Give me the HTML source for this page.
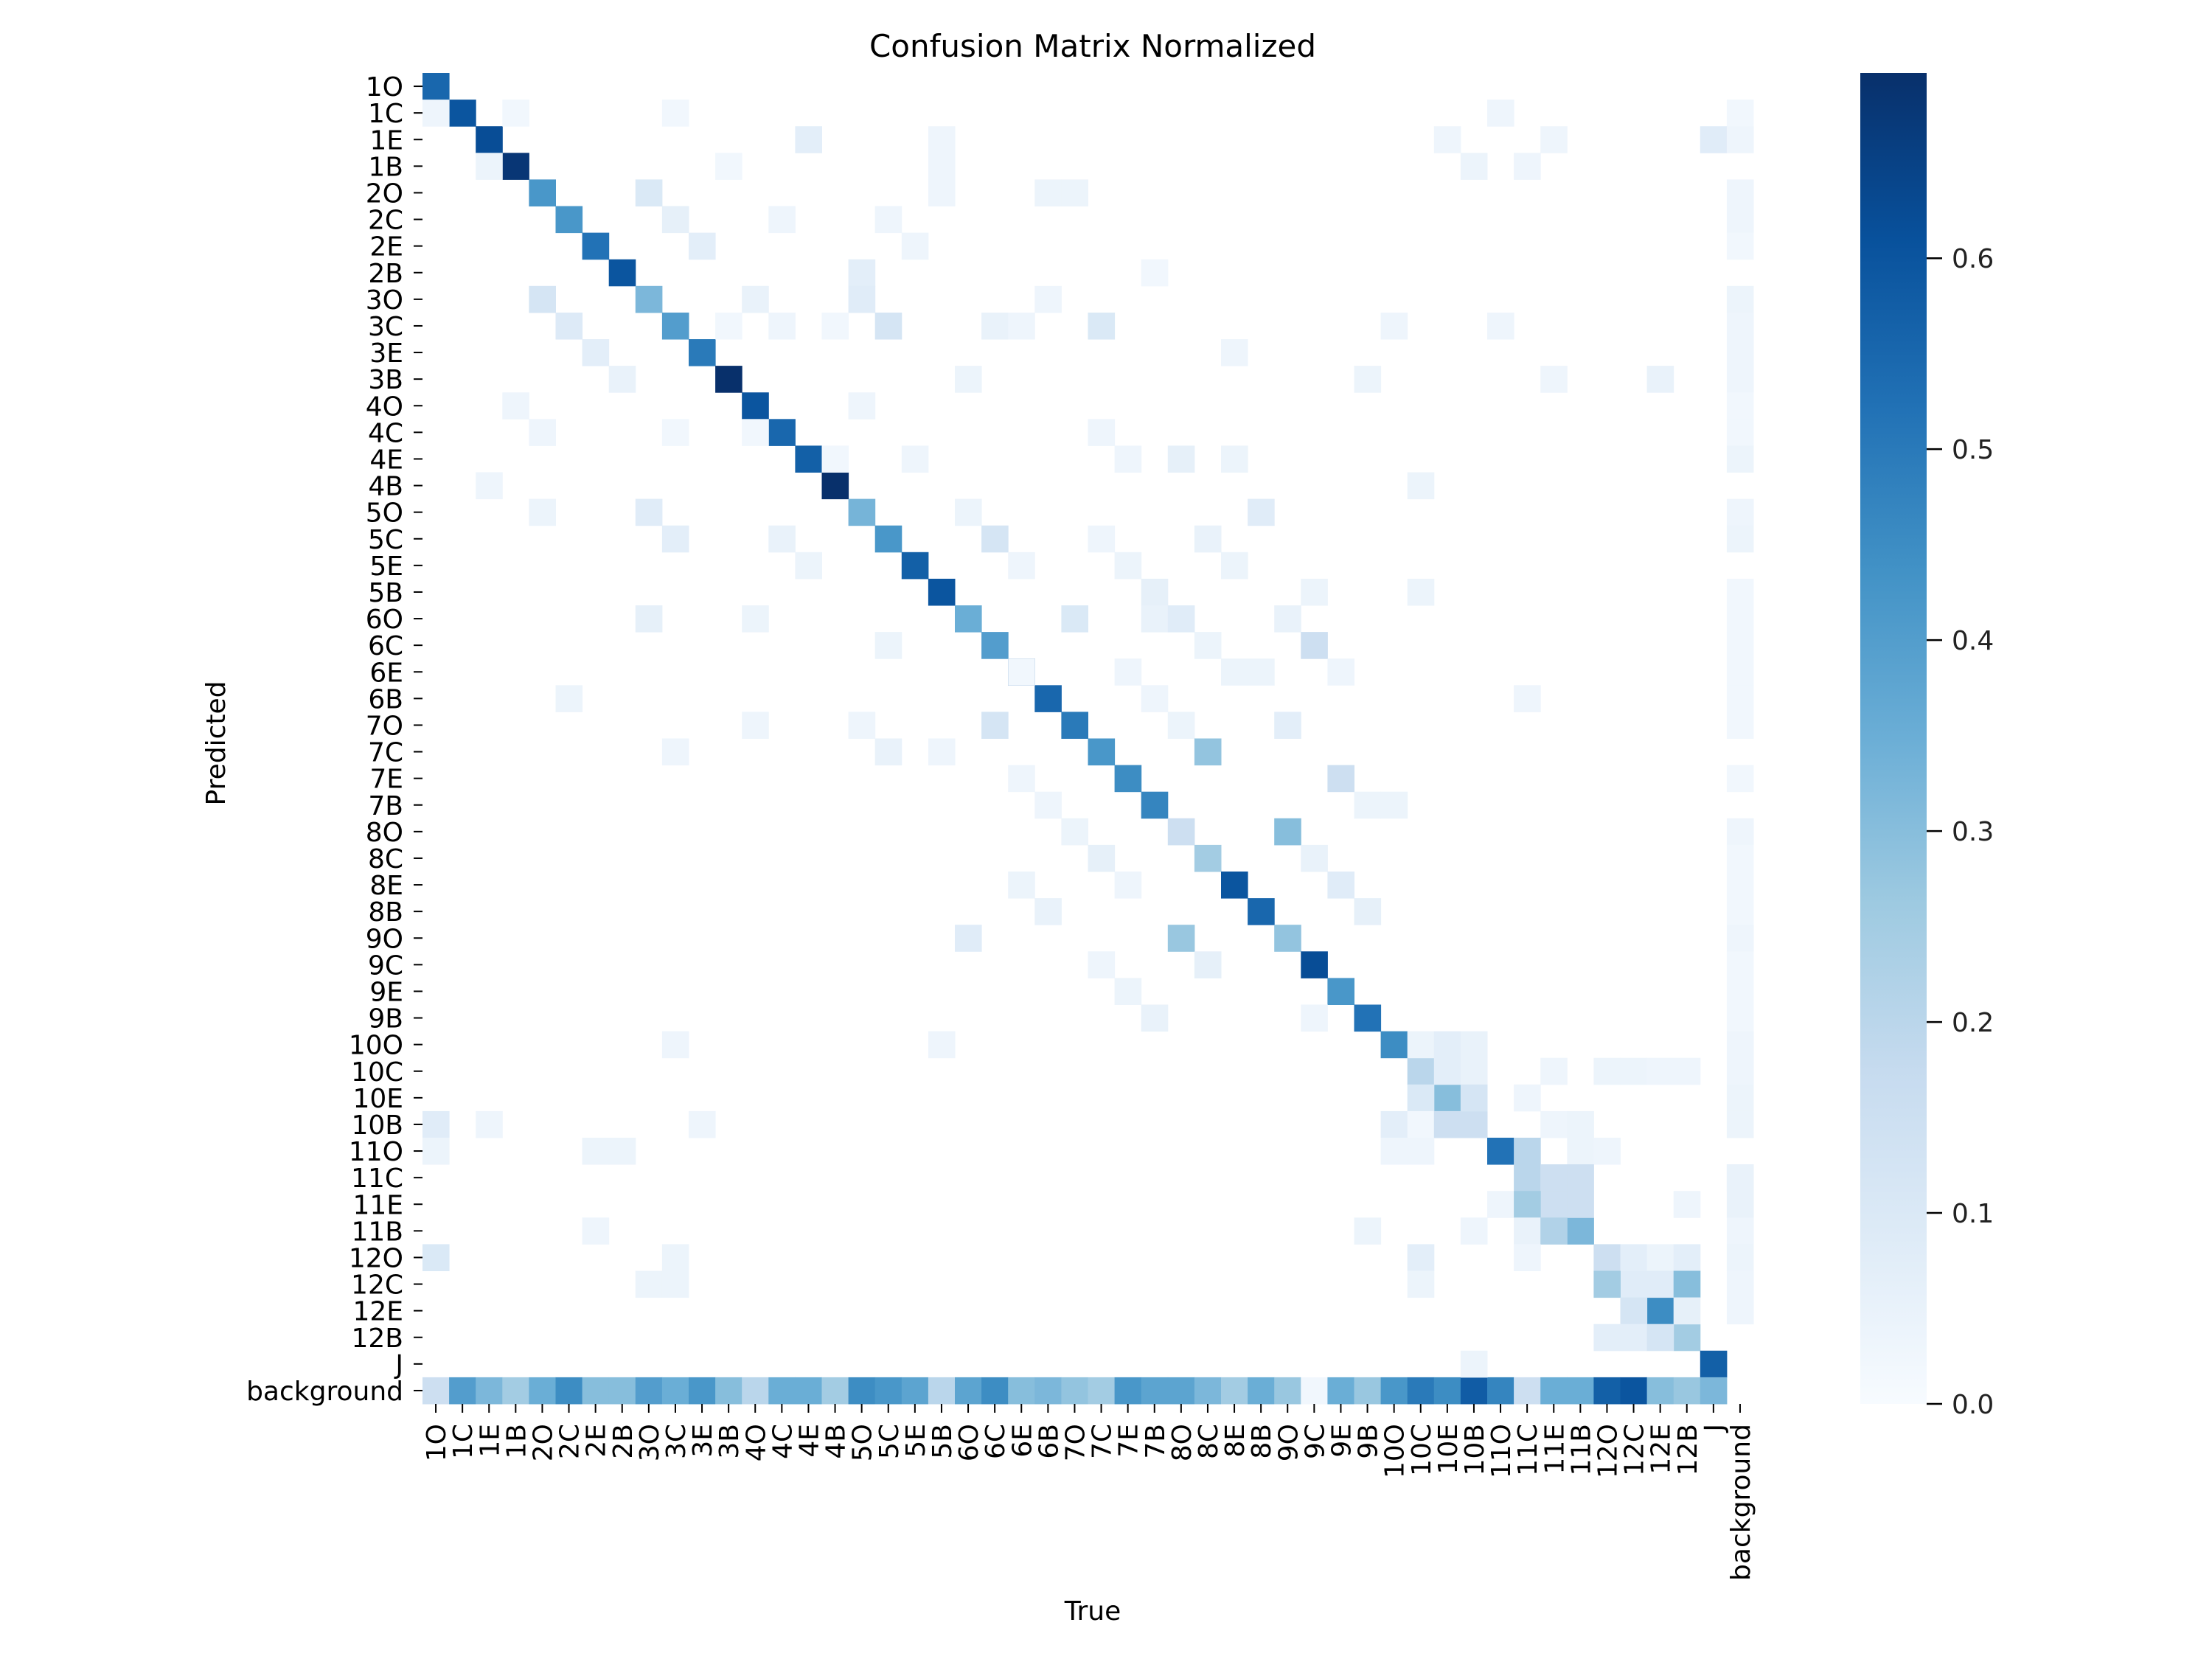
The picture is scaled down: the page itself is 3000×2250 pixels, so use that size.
<!DOCTYPE html>
<html><head><meta charset="utf-8"><style>
html,body{margin:0;padding:0;background:#fff;}
svg{display:block;font-family:"DejaVu Sans","Liberation Sans",sans-serif;}
</style></head><body>
<svg id="chart" width="3000" height="2250" viewBox="0 0 3000 2250" xmlns="http://www.w3.org/2000/svg">
<rect width="3000" height="2250" fill="#fff"/>
<text x="1482" y="77" font-size="42" text-anchor="middle">Confusion Matrix Normalized</text>
<text x="1482" y="2197" font-size="36" text-anchor="middle">True</text>
<text x="305" y="1008" font-size="36" text-anchor="middle" transform="rotate(-90 305 1008)">Predicted</text>
<g id="cells"></g><g id="yticks"></g><g id="xticks"></g>
<defs><linearGradient id="cbg" x1="0" y1="1" x2="0" y2="0">
<stop offset="0" stop-color="#f7fbff"/><stop offset="0.125" stop-color="#deebf7"/><stop offset="0.25" stop-color="#c6dbef"/><stop offset="0.375" stop-color="#9ecae1"/><stop offset="0.5" stop-color="#6baed6"/><stop offset="0.625" stop-color="#4292c6"/><stop offset="0.75" stop-color="#2171b5"/><stop offset="0.875" stop-color="#08519c"/><stop offset="1" stop-color="#08306b"/></linearGradient></defs>
<rect x="2523" y="99" width="90" height="1805" fill="url(#cbg)"/>
<g id="cbticks"></g>
</svg>
<script>
const categories=["1O","1C","1E","1B","2O","2C","2E","2B","3O","3C","3E","3B","4O","4C","4E","4B","5O","5C","5E","5B","6O","6C","6E","6B","7O","7C","7E","7B","8O","8C","8E","8B","9O","9C","9E","9B","10O","10C","10E","10B","11O","11C","11E","11B","12O","12C","12E","12B","J","background"];
const diagonal=[0.55,0.6,0.62,0.68,0.42,0.42,0.52,0.6,0.32,0.4,0.5,0.7,0.6,0.55,0.57,0.7,0.33,0.42,0.57,0.6,0.35,0.4,0.6,0.55,0.5,0.42,0.45,0.47,0.15,0.25,0.6,0.55,0.28,0.62,0.42,0.52,0.45,0.2,0.3,0.15,0.52,0.2,0.15,0.32,0.15,0.08,0.45,0.25,0.57,0];
const backgroundRow=[0.15,0.4,0.32,0.25,0.35,0.45,0.3,0.3,0.4,0.35,0.42,0.3,0.2,0.35,0.35,0.25,0.45,0.42,0.38,0.2,0.38,0.45,0.3,0.32,0.28,0.25,0.42,0.38,0.38,0.32,0.25,0.35,0.27,0.02,0.35,0.27,0.42,0.5,0.45,0.58,0.47,0.15,0.35,0.35,0.57,0.6,0.3,0.27,0.32];
const offRows=[1,1,1,1,1,2,2,2,2,2,2,3,3,3,3,3,4,4,4,4,4,5,5,5,5,6,6,6,7,7,8,8,8,8,8,9,9,9,9,9,9,9,9,9,9,9,10,10,10,11,11,11,11,11,11,12,12,12,13,13,13,13,13,14,14,14,14,14,14,15,15,16,16,16,16,16,17,17,17,17,17,17,18,18,18,18,19,19,19,19,20,20,20,20,20,20,20,21,21,21,21,22,22,22,22,22,22,23,23,23,23,24,24,24,24,24,24,25,25,25,25,26,26,26,27,27,27,28,28,28,29,29,29,30,30,30,30,31,31,31,32,32,32,33,33,33,34,34,35,35,35,36,36,36,36,36,36,37,37,37,37,37,37,37,37,38,38,38,38,39,39,39,39,39,39,39,39,39,40,40,40,40,40,40,40,40,41,41,41,41,42,42,42,42,42,43,43,43,43,43,43,44,44,44,44,44,44,44,44,45,45,45,45,45,45,45,46,46,46,47,47,47,48];
const offCols=[0,3,9,40,49,14,19,38,42,48,49,2,11,19,39,41,8,19,23,24,49,9,13,17,49,10,18,49,16,27,4,12,16,23,49,5,11,13,15,17,21,22,25,36,40,49,6,30,49,7,20,35,42,46,49,3,16,49,4,9,12,25,49,15,18,26,28,30,49,2,37,4,8,20,31,49,9,13,21,25,29,49,14,22,26,30,27,33,37,49,8,12,24,27,28,32,49,17,29,33,49,26,30,31,34,49,22,5,27,41,49,12,16,21,28,32,49,9,17,19,29,22,34,49,23,35,36,24,32,49,25,33,49,22,26,34,49,23,35,49,20,28,49,25,29,49,26,49,27,33,49,9,19,37,38,39,49,38,39,42,44,45,46,47,49,37,39,41,49,0,2,10,36,37,38,42,43,49,0,6,7,36,37,41,43,44,42,43,49,49,40,41,43,47,49,6,35,39,41,42,49,0,9,37,41,45,46,47,49,8,9,37,44,46,47,49,45,47,49,44,45,46,39];
const offVals=[0.03,0.02,0.02,0.03,0.02,0.07,0.03,0.03,0.03,0.08,0.03,0.04,0.02,0.03,0.04,0.03,0.1,0.03,0.04,0.04,0.03,0.06,0.03,0.03,0.03,0.07,0.03,0.02,0.07,0.02,0.12,0.05,0.08,0.03,0.04,0.09,0.02,0.03,0.02,0.12,0.05,0.03,0.1,0.03,0.03,0.03,0.07,0.03,0.03,0.05,0.04,0.04,0.03,0.05,0.03,0.03,0.03,0.02,0.03,0.02,0.02,0.03,0.02,0.02,0.03,0.03,0.06,0.04,0.04,0.03,0.04,0.04,0.08,0.04,0.08,0.03,0.07,0.05,0.12,0.03,0.05,0.04,0.04,0.03,0.04,0.04,0.06,0.04,0.04,0.02,0.06,0.04,0.1,0.05,0.08,0.05,0.02,0.04,0.04,0.15,0.02,0.03,0.04,0.04,0.03,0.02,0.02,0.04,0.03,0.03,0.02,0.03,0.03,0.12,0.04,0.07,0.02,0.03,0.05,0.03,0.28,0.03,0.15,0.02,0.03,0.04,0.04,0.04,0.3,0.03,0.06,0.05,0.02,0.04,0.03,0.08,0.02,0.05,0.06,0.02,0.08,0.27,0.03,0.03,0.06,0.02,0.04,0.02,0.05,0.03,0.02,0.03,0.03,0.04,0.07,0.05,0.03,0.07,0.05,0.03,0.04,0.04,0.03,0.03,0.03,0.1,0.12,0.03,0.04,0.08,0.03,0.03,0.07,0.02,0.15,0.03,0.04,0.04,0.04,0.04,0.04,0.03,0.03,0.2,0.04,0.03,0.15,0.15,0.04,0.05,0.03,0.25,0.15,0.03,0.05,0.03,0.04,0.03,0.05,0.22,0.03,0.1,0.04,0.07,0.03,0.07,0.04,0.07,0.04,0.04,0.04,0.04,0.25,0.08,0.3,0.03,0.12,0.06,0.03,0.07,0.07,0.12,0.04];
const cbTicks=[0,0.1,0.2,0.3,0.4,0.5,0.6];
const VMAX=0.697;
const NS="http://www.w3.org/2000/svg";
const X0=573,Y0=99,W=1805,H=1805,N=categories.length,CW=W/N,CH=H/N;
const stops=[[247,251,255],[222,235,247],[198,219,239],[158,202,225],[107,174,214],[66,146,198],[33,113,181],[8,81,156],[8,48,107]];
function color(v){let t=Math.max(0,Math.min(1,v/VMAX))*8;let i=Math.min(7,Math.floor(t)),f=t-i;const a=stops[i],b=stops[i+1];return `rgb(${a.map((c,k)=>Math.round(c+(b[k]-c)*f)).join(',')})`;}
function xPos(c){return X0+c*CW;}function yPos(r){return Y0+r*CH;}
function cbY(v){return Y0+H-(v/VMAX)*H;}
const cells=document.getElementById('cells');
function addCell(r,c,v){if(v<=0)return;const el=document.createElementNS(NS,'rect');
el.setAttribute('x',xPos(c));el.setAttribute('y',yPos(r));el.setAttribute('width',CW+0.5);el.setAttribute('height',CH+0.5);el.setAttribute('fill',color(v));


cells.appendChild(el);}
diagonal.forEach((v,i)=>addCell(i,i,v));
backgroundRow.forEach((v,c)=>addCell(N-1,c,v));
offRows.forEach((r,k)=>addCell(r,offCols[k],offVals[k]));
const yt=document.getElementById('yticks'),xt=document.getElementById('xticks');
categories.forEach((lab,i)=>{
 const cy=yPos(i)+CH/2;
 const l=document.createElementNS(NS,'line');l.setAttribute('x1',X0-12);l.setAttribute('x2',X0);l.setAttribute('y1',cy);l.setAttribute('y2',cy);l.setAttribute('stroke','#000');l.setAttribute('stroke-width','2');
 
 
 yt.appendChild(l);
 const t=document.createElementNS(NS,'text');t.setAttribute('x',X0-26);t.setAttribute('y',cy+13);t.setAttribute('font-size','36');t.setAttribute('text-anchor','end');t.textContent=lab;
 
 
 yt.appendChild(t);
 const cx=xPos(i)+CW/2;
 const l2=document.createElementNS(NS,'line');l2.setAttribute('x1',cx);l2.setAttribute('x2',cx);l2.setAttribute('y1',Y0+H);l2.setAttribute('y2',Y0+H+12);l2.setAttribute('stroke','#000');l2.setAttribute('stroke-width','2');
 
 
 xt.appendChild(l2);
 const t2=document.createElementNS(NS,'text');const ty=Y0+H+27;t2.setAttribute('x',cx+13);t2.setAttribute('y',ty);t2.setAttribute('font-size','36');t2.setAttribute('text-anchor','end');t2.setAttribute('transform',`rotate(-90 ${cx+13} ${ty})`);t2.textContent=lab;
 
 
 xt.appendChild(t2);
});
const cb=document.getElementById('cbticks');
cbTicks.forEach(v=>{const y=cbY(v);
 const l=document.createElementNS(NS,'line');l.setAttribute('x1',2613);l.setAttribute('x2',2634);l.setAttribute('y1',y);l.setAttribute('y2',y);l.setAttribute('stroke','#000');l.setAttribute('stroke-width','2.5');
 
 
 cb.appendChild(l);
 const t=document.createElementNS(NS,'text');t.setAttribute('x',2647);t.setAttribute('y',y+13);t.setAttribute('font-size','36');t.setAttribute('fill','#222');t.textContent=v.toFixed(1);
 
 
 cb.appendChild(t);});
</script>
</body></html>
